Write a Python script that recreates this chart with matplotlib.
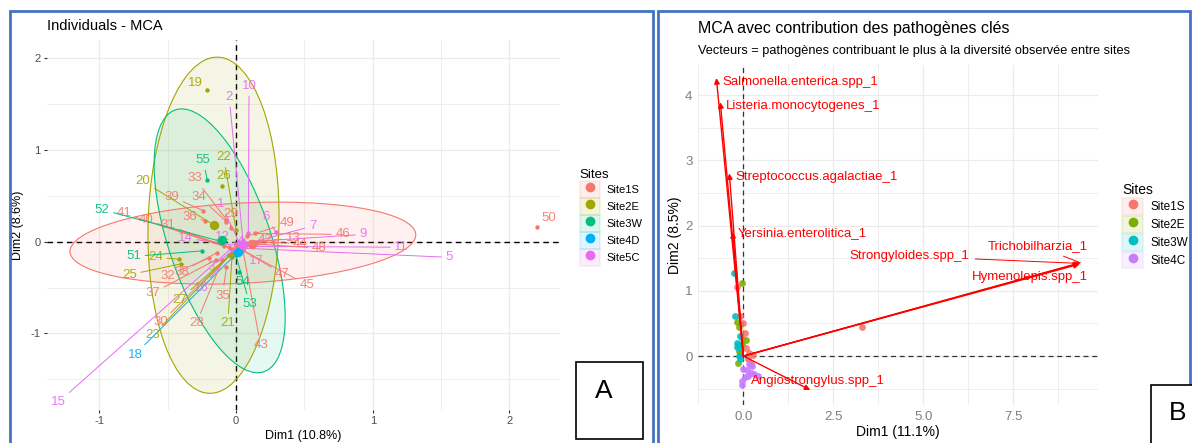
import matplotlib
matplotlib.use("Agg")
import matplotlib.pyplot as plt
import numpy as np
from matplotlib.patches import Ellipse, Rectangle
from matplotlib.lines import Line2D
from matplotlib.legend_handler import HandlerTuple

plt.rcParams['font.family'] = ['Liberation Sans', 'DejaVu Sans']
plt.rcParams['axes.unicode_minus'] = False

# ---------------- Panel A : Individuals - MCA ----------------
sites_a = ["Site1S", "Site2E", "Site3W", "Site4D", "Site5C"]
colors_a = ["#F8766D", "#A3A500", "#00BF7D", "#00B0F6", "#E76BF3"]

ind_id = ["10", "2", "6", "7", "9", "11", "5", "15", "14", "12", "16", "17", "1", "4", "3",
          "18",
          "50", "33", "39", "34", "36", "29", "41", "40", "31", "42", "49", "46", "44", "48",
          "47", "45", "43", "35", "28", "30", "37", "32", "38", "13",
          "19", "22", "26", "20", "24", "25", "27", "23", "21",
          "55", "52", "51", "54", "53"]
ind_site = [4] * 15 + [3] + [0] * 24 + [1] * 9 + [2] * 5
ind_x = [0.09, 0.05, 0.29, 0.08, 0.10, 0.06, 0.04, -0.04, 0.00, 0.00, -0.02, 0.03, 0.02, 0.07, -0.02,
         0.015,
         2.20, -0.07, -0.24, -0.07, -0.23, -0.04, -0.09, -0.05, -0.02, 0.15, 0.08, 0.14, 0.14, 0.10,
         0.00, 0.02, 0.05, -0.07, -0.10, -0.05, -0.15, -0.20, -0.14, 0.16,
         -0.21, 0.00, -0.10, -0.16, -0.42, -0.40, -0.05, -0.03, -0.03,
         -0.21, -0.10, -0.25, 0.02, 0.00]
ind_y = [0.09, 0.02, 0.11, -0.02, 0.00, -0.05, -0.07, -0.08, -0.04, -0.02, -0.10, -0.06, 0.00, -0.03, -0.09,
         -0.11,
         0.16, 0.24, 0.34, 0.22, 0.23, 0.15, -0.05, -0.06, -0.08, -0.01, 0.06, 0.09, 0.00, -0.02,
         -0.05, -0.07, -0.09, -0.28, -0.20, -0.15, -0.20, -0.18, -0.12, 0.00,
         1.66, 0.13, 0.61, 0.18, -0.19, -0.24, -0.15, -0.12, -0.17,
         0.67, 0.00, -0.10, -0.33, -0.15]
lab_x = [0.095, -0.05, 0.22, 0.56, 0.93, 1.21, 1.56, -1.30, -0.37, -0.10, -0.25, 0.15, -0.11, 0.03, -0.18,
         -0.74,
         2.29, -0.30, -0.47, -0.27, -0.34, -0.04, -0.82, -0.66, -0.50, 0.21, 0.37, 0.78, 0.47, 0.61,
         0.34, 0.52, 0.18, -0.10, -0.29, -0.55, -0.61, -0.50, -0.40, 0.42,
         -0.30, -0.09, -0.09, -0.68, -0.59, -0.78, -0.41, -0.61, -0.06,
         -0.24, -0.98, -0.75, 0.05, 0.10]
lab_y = [1.70, 1.58, 0.27, 0.17, 0.08, -0.06, -0.17, -1.75, 0.04, 0.05, -0.50, -0.21, 0.41, 0.00, -0.28,
         -1.23,
         0.26, 0.69, 0.49, 0.49, 0.27, 0.30, 0.31, 0.24, 0.18, 0.02, 0.20, 0.08, -0.02, -0.07,
         -0.35, -0.47, -1.13, -0.59, -0.89, -0.88, -0.56, -0.37, -0.33, 0.04,
         1.73, 0.92, 0.72, 0.66, -0.17, -0.36, -0.63, -1.02, -0.89,
         0.89, 0.35, -0.16, -0.44, -0.68]

cent_x = [0.12, -0.16, -0.10, 0.015, 0.05]
cent_y = [-0.03, 0.18, 0.02, -0.11, -0.04]

# confidence ellipses (centre + covariance) for the three larger groups
ell_site = [0, 1, 2]
ell_cx = [0.05, -0.165, -0.12]
ell_cy = [-0.015, 0.18, 0.01]
ell_sxx = [1.60, 0.23, 0.23]
ell_syy = [0.20, 3.36, 2.07]
ell_sxy = [0.114, 0.048, -0.40]

# ---------------- Panel B : MCA + pathogen vectors ----------------
sites_b = ["Site1S", "Site2E", "Site3W", "Site4C"]
colors_b = ["#F8766D", "#7CAE00", "#00BFC4", "#C77CFF"]

pt_site = [0] * 11 + [1] * 8 + [2] * 9 + [3] * 11
pt_x = [-0.19, -0.10, 0.05, 0.15, 0.22, 0.12, 3.30, 0.08, -0.04, 0.28, 0.00,
        -0.05, -0.19, -0.12, 0.06, -0.12, -0.08, -0.15, -0.05,
        -0.25, -0.22, -0.14, -0.10, -0.17, -0.08, -0.12, -0.18, -0.10,
        0.00, 0.10, 0.20, 0.30, 0.05, -0.05, -0.05, 0.15, 0.25, 0.42, 0.12]
pt_y = [1.06, 0.62, 0.35, 0.05, -0.12, -0.05, 0.45, 0.12, 0.28, 0.02, 0.50,
        1.12, 0.52, 0.45, 0.25, 0.08, 0.04, -0.10, 0.18,
        1.27, 0.62, 0.17, 0.12, 0.20, 0.30, 0.00, 0.14, -0.05,
        -0.20, -0.22, -0.26, -0.28, -0.32, -0.38, -0.45, -0.12, -0.16, -0.30, -0.30]

vec_names = ["Salmonella.enterica.spp_1", "Listeria.monocytogenes_1",
             "Streptococcus.agalactiae_1", "Yersinia.enterolitica_1",
             "Angiostrongylus.spp_1", "Trichobilharzia_1",
             "Strongyloides.spp_1", "Hymenolepis.spp_1"]
vec_x = [-0.75, -0.64, -0.39, -0.30, 1.86, 9.36, 9.33, 9.34]
vec_y = [4.26, 3.89, 2.80, 1.90, -0.52, 1.43, 1.42, 1.41]
vlab_x = [-0.59, -0.48, -0.23, -0.15, 0.21, 8.19, 4.62, 7.96]
vlab_y = [4.20, 3.83, 2.74, 1.88, -0.38, 1.68, 1.53, 1.21]
vlab_ha = ["left", "left", "left", "left", "left", "center", "center", "center"]
vlab_seg = [False, False, False, False, False, True, True, False]

W, H = 1192, 443
fig = plt.figure(figsize=(W / 100, H / 100), dpi=100)
GRID = "#EBEBEB"


def style_minimal(ax):
    for s in ax.spines.values():
        s.set_visible(False)
    ax.grid(True, which="major", color=GRID, lw=0.9)
    ax.grid(True, which="minor", color=GRID, lw=0.6)
    ax.set_axisbelow(True)


# ======== Panel A ========
axA = fig.add_axes([47 / W, 1 - 410 / H, 513 / W, 370 / H])
axA.set_xlim(-1.383, 2.370)
axA.set_ylim(-1.835, 2.20)
style_minimal(axA)
axA.set_xticks([-1, 0, 1, 2])
axA.set_yticks([-1, 0, 1, 2])
axA.set_xticks([-0.5, 0.5, 1.5], minor=True)
axA.set_yticks([-1.5, -0.5, 0.5, 1.5], minor=True)
axA.tick_params(which="major", length=2.5, width=0.8, color="#333333",
                labelcolor="#4D4D4D", labelsize=8, pad=2)
axA.tick_params(which="minor", length=0)
axA.axhline(0, color="black", ls=(0, (4, 3)), lw=1.0, zorder=1)
axA.axvline(0, color="black", ls=(0, (4, 3)), lw=1.0, zorder=1)

for s, cx, cy, sxx, syy, sxy in zip(ell_site, ell_cx, ell_cy, ell_sxx, ell_syy, ell_sxy):
    vals, vecs = np.linalg.eigh(np.array([[sxx, sxy], [sxy, syy]]))
    ang = np.degrees(np.arctan2(vecs[1, 1], vecs[0, 1]))
    col = colors_a[s]
    axA.add_patch(Ellipse((cx, cy), 2 * np.sqrt(vals[1]), 2 * np.sqrt(vals[0]), angle=ang,
                          facecolor=col, alpha=0.1, edgecolor="none", zorder=1))
    axA.add_patch(Ellipse((cx, cy), 2 * np.sqrt(vals[1]), 2 * np.sqrt(vals[0]), angle=ang,
                          facecolor="none", edgecolor=col, lw=0.8, zorder=1.5))

fig.canvas.draw()
for lab, s, x, y, lx, ly in zip(ind_id, ind_site, ind_x, ind_y, lab_x, lab_y):
    col = colors_a[s]
    axA.scatter([x], [y], s=10, color=col, zorder=3, linewidths=0)
    p0 = axA.transData.transform((x, y))
    p1 = axA.transData.transform((lx, ly))
    far = np.hypot(*(p1 - p0)) > 12
    axA.annotate(lab, xy=(x, y), xytext=(lx, ly), color=col, fontsize=9.5,
                 ha="center", va="center", zorder=4, alpha=0.9,
                 arrowprops=dict(arrowstyle="-", color=col, lw=0.7,
                                 shrinkA=1, shrinkB=0) if far else None)

for cx, cy, col in zip(cent_x, cent_y, colors_a):
    axA.scatter([cx], [cy], s=45, color=col, zorder=5, linewidths=0)

axA.set_xlabel("Dim1 (10.8%)", fontsize=9, color="black", labelpad=3)
axA.set_ylabel("Dim2 (8.6%)", fontsize=9, color="black", labelpad=5)
axA.set_title("Individuals - MCA", loc="left", fontsize=10.5, pad=7)

hA = [(Rectangle((0, 0), 1, 1, facecolor=c, alpha=0.12, edgecolor=c, lw=1.2),
       Line2D([], [], marker="o", ls="", color=c, markersize=6)) for c in colors_a]
legA = fig.legend(hA, sites_a, loc="upper left", bbox_to_anchor=(574 / W, 1 - 163 / H),
                  frameon=False, title="Sites", fontsize=8, title_fontsize=9.5,
                  handlelength=1.8, handleheight=1.9, labelspacing=0.05,
                  handletextpad=0.6, borderpad=0, alignment="left",
                  handler_map={tuple: HandlerTuple(ndivide=1)})

# ======== Panel B ========
axB = fig.add_axes([698 / W, 1 - 405 / H, 400 / W, 340 / H])
axB.set_xlim(-1.26, 9.85)
axB.set_ylim(-0.75, 4.46)
style_minimal(axB)
axB.set_xticks([0, 2.5, 5, 7.5])
axB.set_xticklabels(["0.0", "2.5", "5.0", "7.5"])
axB.set_yticks([0, 1, 2, 3, 4])
axB.set_xticks([-1.25, 1.25, 3.75, 6.25, 8.75], minor=True)
axB.set_yticks([-0.5, 0.5, 1.5, 2.5, 3.5], minor=True)
axB.tick_params(which="both", length=0, labelcolor="#7F7F7F", labelsize=9.5, pad=4)
axB.axhline(0, color="#333333", ls=(0, (4, 3)), lw=0.9, zorder=1)
axB.axvline(0, color="#333333", ls=(0, (4, 3)), lw=0.9, zorder=1)

for s, x, y in zip(pt_site, pt_x, pt_y):
    axB.scatter([x], [y], s=24, color=colors_b[s], zorder=2, linewidths=0, alpha=0.9)

for name, x, y, lx, ly, ha, seg in zip(vec_names, vec_x, vec_y, vlab_x, vlab_y, vlab_ha, vlab_seg):
    axB.annotate("", xy=(x, y), xytext=(0, 0), zorder=3,
                 arrowprops=dict(arrowstyle="-|>", color="red", lw=1.0,
                                 mutation_scale=8, shrinkA=0, shrinkB=0))
    axB.annotate(name, xy=(x, y), xytext=(lx, ly), color="red", fontsize=9.5,
                 ha=ha, va="center", zorder=4,
                 arrowprops=dict(arrowstyle="-", color="red", lw=0.7,
                                 shrinkA=2, shrinkB=0) if seg else None)

axB.set_xlabel("Dim1 (11.1%)", fontsize=10, labelpad=2)
axB.set_ylabel("Dim2 (8.5%)", fontsize=10, labelpad=2)
fig.text(698 / W, 1 - 28 / H, "MCA avec contribution des pathogènes clés",
         fontsize=11.5, ha="left", va="center")
fig.text(698 / W, 1 - 51 / H,
         "Vecteurs = pathogènes contribuant le plus à la diversité observée entre sites",
         fontsize=9.2, ha="left", va="center")

hB = [(Rectangle((0, 0), 1, 1, facecolor=c, alpha=0.12, edgecolor=c, lw=1.2),
       Line2D([], [], marker="o", ls="", color=c, markersize=6)) for c in colors_b]
legB = fig.legend(hB, sites_b, loc="upper left", bbox_to_anchor=(1116 / W, 1 - 177 / H),
                  frameon=False, title="Sites", fontsize=8.5, title_fontsize=10,
                  handlelength=1.8, handleheight=1.8, labelspacing=0.1,
                  handletextpad=0.6, borderpad=0, alignment="left",
                  handler_map={tuple: HandlerTuple(ndivide=1)})

# ======== frames and panel letters ========
BLUE = "#4472C4"
fig.add_artist(Rectangle((10 / W, -0.05), 643 / W, 1.05 - 11 / H, transform=fig.transFigure,
                         fill=False, edgecolor=BLUE, lw=2))
fig.add_artist(Rectangle((658 / W, -0.05), 532 / W, 1.05 - 11 / H, transform=fig.transFigure,
                         fill=False, edgecolor=BLUE, lw=2))
fig.add_artist(Rectangle((576 / W, 1 - 439 / H), 67 / W, 77 / H, transform=fig.transFigure,
                         facecolor="white", edgecolor="black", lw=1.2))
fig.text(604 / W, 1 - 391 / H, "A", fontsize=19, ha="center", va="center")
fig.add_artist(Rectangle((1151 / W, -0.05), 60 / W, 0.05 + 58 / H, transform=fig.transFigure,
                         facecolor="white", edgecolor="black", lw=1.2))
fig.text(1178 / W, 1 - 413 / H, "B", fontsize=19, ha="center", va="center")

fig.savefig("out.png", dpi=100)
